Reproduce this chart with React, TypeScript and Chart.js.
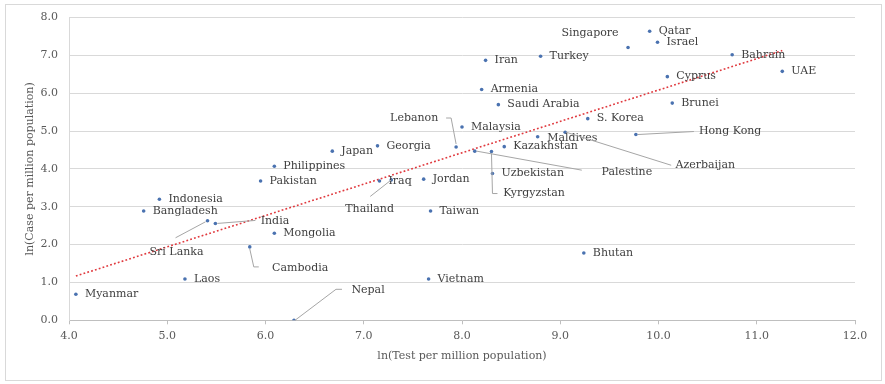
import { useEffect, useRef } from "react";
import { Chart, registerables } from "chart.js";

Chart.register(...registerables);

// ---- Data ----
const countries = [
  "Myanmar", "Laos", "Indonesia", "Bangladesh", "Sri Lanka", "India", "Cambodia", "Mongolia",
  "Pakistan", "Philippines", "Japan", "Georgia", "Iraq", "Thailand", "Nepal", "Jordan",
  "Taiwan", "Vietnam", "Lebanon", "Malaysia", "Palestine", "Kyrgyzstan", "Uzbekistan",
  "Kazakhstan", "Maldives", "Azerbaijan", "Hong Kong", "S. Korea", "Saudi Arabia", "Armenia",
  "Iran", "Turkey", "Singapore", "Qatar", "Israel", "Bahrain", "UAE", "Cyprus", "Brunei", "Bhutan",
];
const lnTest = [
  4.07, 5.18, 4.92, 4.76, 5.41, 5.49, 5.84, 6.09,
  5.95, 6.09, 6.68, 7.14, 7.16, 7.28, 6.29, 7.61,
  7.68, 7.66, 7.94, 8.0, 8.13, 8.3, 8.31,
  8.43, 8.77, 9.05, 9.77, 9.28, 8.37, 8.2,
  8.24, 8.8, 9.69, 9.91, 9.99, 10.75, 11.26, 10.09, 10.14, 9.24,
];
const lnCase = [
  0.69, 1.09, 3.2, 2.89, 2.63, 2.56, 1.94, 2.3,
  3.68, 4.07, 4.47, 4.61, 3.68, 3.71, 0.0, 3.73,
  2.89, 1.09, 4.58, 5.11, 4.47, 4.46, 3.88,
  4.59, 4.85, 4.97, 4.91, 5.33, 5.7, 6.1,
  6.87, 6.98, 7.21, 7.64, 7.35, 7.02, 6.58, 6.44, 5.74, 1.78,
];
const trendX = [4.07, 11.26];
const trendY = [1.17, 7.13];
const xTickValues = [4, 5, 6, 7, 8, 9, 10, 11, 12];
const yTickValues = [0, 1, 2, 3, 4, 5, 6, 7, 8];
const xTitle = "ln(Test per million population)";
const yTitle = "ln(Case per million population)";

// ---- Label placement (pixel offsets from the point; styling only) ----
type Placement = { dx?: number; dy?: number; leader?: number[][] };
const placements: Record<string, Placement> = {
  Singapore: { dx: -66.6, dy: -14.3 },
  Lebanon: { dx: -66, dy: -29, leader: [[-10, -29], [-5, -29], [0, -3]] },
  Palestine: { dx: 126.7, dy: 20.7, leader: [[2, 0], [107, 19]] },
  Kyrgyzstan: { dx: 11.7, dy: 42, leader: [[0, 2], [1, 42], [6, 42]] },
  Azerbaijan: { dx: 110.3, dy: 33.3, leader: [[1, 0], [106, 33]] },
  "Hong Kong": { dx: 63, dy: -3, leader: [[2, 0], [58, -3]] },
  "Sri Lanka": { dx: -58, dy: 31, leader: [[-32, 17], [-2, 1]] },
  India: { dx: 45.3, dy: -2.3, leader: [[2, 0], [40, -3]] },
  Cambodia: { dx: 22.3, dy: 21.3, leader: [[0, 2], [4, 20], [9, 20]] },
  Nepal: { dx: 57.4, dy: -30.3, leader: [[1, 0], [42, -31], [48, -31]] },
  Thailand: { dx: -46, dy: 28.8, leader: [[-21, 16.5], [0, 0]] },
  Maldives: { dx: 9.5, dy: 1 },
};

const SERIF = '"DejaVu Serif", serif';

const framePlugin = {
  id: "frame",
  beforeDraw(chart: any) {
    const ctx = chart.ctx;
    ctx.save();
    ctx.fillStyle = "#ffffff";
    ctx.fillRect(0, 0, chart.width, chart.height);
    ctx.strokeStyle = "#d9d9d9";
    ctx.lineWidth = 1;
    ctx.strokeRect(5.5, 4.5, 876, 376);
    ctx.restore();
  },
};

const labelPlugin = {
  id: "pointLabels",
  afterDatasetsDraw(chart: any) {
    const ctx = chart.ctx;
    const meta = chart.getDatasetMeta(1);
    ctx.save();
    ctx.font = `11px ${SERIF}`;
    ctx.textBaseline = "middle";
    ctx.textAlign = "left";
    meta.data.forEach((pt: any, i: number) => {
      const name = countries[i];
      const p = placements[name] || {};
      const dx = p.dx ?? 9;
      const dy = p.dy ?? 0;
      if (p.leader) {
        ctx.strokeStyle = "#a6a6a6";
        ctx.lineWidth = 1;
        ctx.beginPath();
        p.leader.forEach(([lx, ly], k) => {
          if (k === 0) ctx.moveTo(pt.x + lx, pt.y + ly);
          else ctx.lineTo(pt.x + lx, pt.y + ly);
        });
        ctx.stroke();
      }
      ctx.fillStyle = "#404040";
      ctx.fillText(name, pt.x + dx, pt.y + dy);
    });
    ctx.restore();
  },
};

export default function App() {
  const ref = useRef<HTMLCanvasElement | null>(null);

  useEffect(() => {
    if (!ref.current) return;
    const chart = new Chart(ref.current, {
      type: "scatter",
      data: {
        datasets: [
          {
            type: "line",
            label: "Trend",
            data: trendX.map((x, i) => ({ x, y: trendY[i] })),
            borderColor: "#e0393e",
            borderWidth: 1.6,
            borderDash: [1.8, 2.2],
            pointRadius: 0,
            fill: false,
            order: 2,
          },
          {
            label: "Countries",
            data: lnTest.map((x, i) => ({ x, y: lnCase[i] })),
            backgroundColor: "#4a72b0",
            borderWidth: 0,
            pointRadius: 1.8,
            order: 1,
          },
        ],
      },
      options: {
        responsive: false,
        animation: false,
        events: [],
        layout: { padding: { left: 0, right: 30, top: 17, bottom: 0 } },
        plugins: {
          legend: { display: false },
          tooltip: { enabled: false },
        },
        scales: {
          x: {
            type: "linear",
            min: 4,
            max: 12,
            afterBuildTicks: (scale: any) => {
              scale.ticks = xTickValues.map((v) => ({ value: v }));
            },
            afterFit: (scale: any) => {
              scale.height = 63.7;
            },
            ticks: {
              color: "#595959",
              font: { family: SERIF, size: 11 },
              padding: 5,
              callback: (v: any) => Number(v).toFixed(1),
            },
            grid: {
              drawOnChartArea: false,
              drawTicks: true,
              tickLength: 4,
              color: "#bfbfbf",
            },
            border: { display: true, color: "#bfbfbf" },
            title: {
              display: true,
              text: xTitle,
              color: "#595959",
              font: { family: SERIF, size: 11 },
              padding: { top: 0, bottom: 21 },
            },
          },
          y: {
            type: "linear",
            min: 0,
            max: 8,
            afterBuildTicks: (scale: any) => {
              scale.ticks = yTickValues.map((v) => ({ value: v }));
            },
            afterFit: (scale: any) => {
              scale.width = 69;
            },
            ticks: {
              color: "#595959",
              font: { family: SERIF, size: 11 },
              padding: 11,
              callback: (v: any) => Number(v).toFixed(1),
            },
            grid: {
              drawTicks: false,
              color: "#d9d9d9",
            },
            border: { display: true, color: "#d9d9d9" },
            title: {
              display: true,
              text: yTitle,
              color: "#595959",
              font: { family: SERIF, size: 11 },
              padding: { top: 24, bottom: 0 },
            },
          },
        },
      },
      plugins: [framePlugin, labelPlugin],
    });
    return () => chart.destroy();
  }, []);

  return (
    <div style={{ position: "fixed", left: 0, top: 0, width: 885, height: 384 }}>
      <canvas ref={ref} width={885} height={384} style={{ display: "block" }} />
    </div>
  );
}
